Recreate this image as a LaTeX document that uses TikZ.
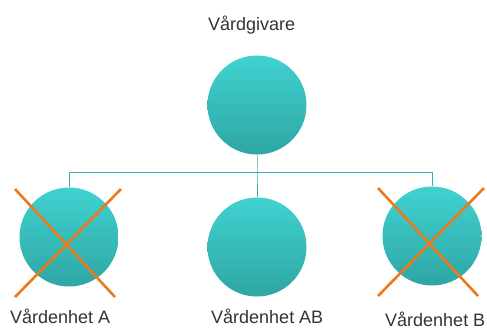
\documentclass[tikz,border=0pt]{standalone}
\usepackage{fontspec}
\setmainfont{Liberation Sans}
\usetikzlibrary{positioning}
\definecolor{tealtop}{HTML}{40D2D0}
\definecolor{tealbot}{HTML}{2EA6A4}
\definecolor{tealline}{HTML}{3AB0AC}
\definecolor{crossorange}{HTML}{EC7A1C}
\definecolor{labelgray}{HTML}{333333}
\tikzset{
	unit/.style={circle,minimum size=99pt,inner sep=0pt,top color=tealtop,bottom color=tealbot,draw=none},
	link/.style={draw=tealline,line width=0.9pt},
	cross/.style={draw=crossorange,line width=2.6pt},
	lbl/.style={text=labelgray,font=\fontsize{18}{20}\selectfont,inner sep=0pt,anchor=base west}
}

\begin{document}
\begin{tikzpicture}[x=1pt,y=-1pt]
            \useasboundingbox (0,0) rectangle (487,327);
            \node[unit] (giver) at (257,105) {};
            \node[unit] (unitA) at (69,237) {};
            \node[unit] (unitAB) at (257,247) {};
            \node[unit] (unitB) at (432,236) {};
            \node[coordinate] (hub) at (257,172) {};
            \draw[link] (giver.south) -- (hub) -- (unitAB.north);
            \draw[link] (hub) -| (unitA.north);
            \draw[link] (hub) -| (unitB.north);
            % struck-out units
            \foreach \u in {unitA,unitB}{
                \draw[cross] ([shift={(-54,-48)}]\u.center) -- ([shift={(46,60)}]\u.center);
                \draw[cross] ([shift={(52,-48)}]\u.center) -- ([shift={(-54,60)}]\u.center);
            }
            \node[lbl] (giverlbl) at (208,30) {Vårdgivare};
            \node[lbl] (unitAlbl) at (10,323) {Vårdenhet A};
            \node[lbl] (unitABlbl) at (211,323) {Vårdenhet AB};
            \node[lbl] (unitBlbl) at (385,326) {Vårdenhet B};
        \end{tikzpicture}
\end{document}
